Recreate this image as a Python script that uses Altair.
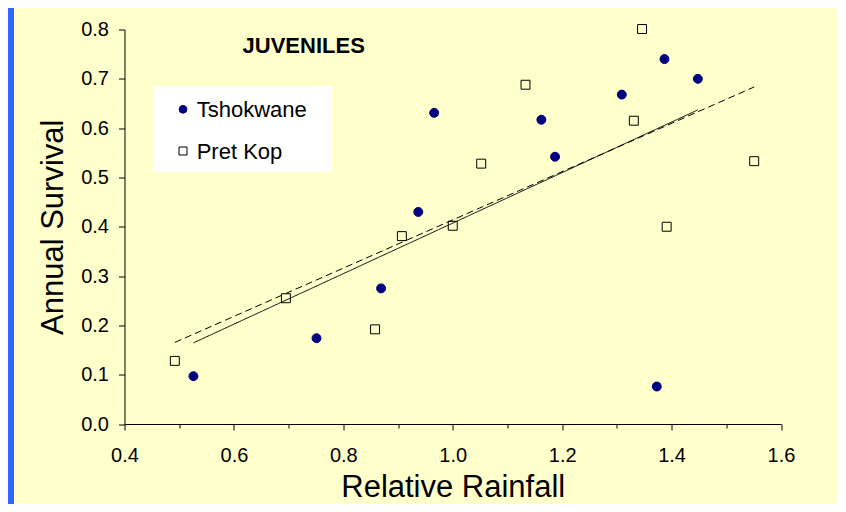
import altair as alt
import pandas as pd

# ---- data ----
series_names = ["Tshokwane", "Pret Kop"]
tsh_x = [0.526, 0.751, 0.869, 0.937, 0.966, 1.162, 1.187, 1.309, 1.387, 1.448, 1.373]
tsh_y = [0.097, 0.174, 0.275, 0.430, 0.631, 0.617, 0.542, 0.668, 0.740, 0.700, 0.076]
pk_x = [0.492, 0.695, 0.858, 0.907, 1.000, 1.052, 1.133, 1.346, 1.331, 1.551, 1.391]
pk_y = [0.128, 0.255, 0.192, 0.381, 0.402, 0.528, 0.688, 0.801, 0.615, 0.533, 0.400]
x_ticks = [0.4, 0.5, 0.6, 0.7, 0.8, 0.9, 1.0, 1.1, 1.2, 1.3, 1.4, 1.5, 1.6]
y_ticks = [0.0, 0.1, 0.2, 0.3, 0.4, 0.5, 0.6, 0.7, 0.8]
title_text = ["JUVENILES"]
x_title = "Relative Rainfall"
y_title = "Annual Survival"

# ---- styles ----
series_shapes = ["circle", "square"]
series_fills = ["#000080", "transparent"]
series_strokes = ["#000080", "#000000"]
series_dashes = [[1, 0], [7, 4]]

df = pd.DataFrame({
    "rain": tsh_x + pk_x,
    "surv": tsh_y + pk_y,
    "site": [series_names[0]] * len(tsh_x) + [series_names[1]] * len(pk_x),
})

FONT = "Liberation Sans"
BG = "#FFFFCC"
BLUE = "#3366FF"

TOTAL_H = 496
PAD_TOP = 21.5
PLOT_H = 394.5

x_scale = alt.Scale(domain=[0.4, 1.6], nice=False, zero=False)
y_scale = alt.Scale(domain=[0.0, 0.8], nice=False, zero=False)

x_axis = alt.Axis(
    values=x_ticks,
    labelExpr="round(datum.value*10) % 2 == 0 ? format(datum.value, '.1f') : ''",
    tickSize={"condition": {"test": "round(datum.value*10) % 2 == 1", "value": 4}, "value": 6},
    labelPadding=15, labelFontSize=20, labelFlush=False, labelOverlap=False,
    title=x_title, titleFontSize=31, titleFontWeight="normal",
    titleY=72, titleBaseline="alphabetic",
)
y_axis = alt.Axis(
    values=y_ticks, format=".1f", tickSize=6, labelPadding=10, labelFontSize=20,
    labelOverlap=False, labelFlush=False,
    title=y_title, titleFontSize=31, titleFontWeight="normal",
    titleAngle=270, titleX=-62.5, titleY=197.25, titleAlign="center",
    titleBaseline="alphabetic",
)

X = alt.X("rain:Q", scale=x_scale, axis=x_axis)
Y = alt.Y("surv:Q", scale=y_scale, axis=y_axis)

base = alt.Chart(df)

points = base.mark_point(size=80, strokeWidth=1, opacity=1).encode(
    x=X, y=Y,
    shape=alt.Shape("site:N", scale=alt.Scale(domain=series_names, range=series_shapes), legend=None),
    fill=alt.Fill("site:N", scale=alt.Scale(domain=series_names, range=series_fills), legend=None),
    stroke=alt.Stroke("site:N", scale=alt.Scale(domain=series_names, range=series_strokes), legend=None),
)

lines = base.transform_regression("rain", "surv", groupby=["site"]).mark_line(
    color="black", strokeWidth=1
).encode(
    x=X, y=Y,
    strokeDash=alt.StrokeDash("site:N", scale=alt.Scale(domain=series_names, range=series_dashes), legend=None),
)

title = alt.Chart(pd.DataFrame({"t": title_text})).mark_text(
    font=FONT, fontSize=22, fontWeight="bold", align="center", baseline="alphabetic", color="black"
).encode(text="t:N", x=alt.value(179.2), y=alt.value(23.8))

strip = alt.Chart(pd.DataFrame({"a": [0]})).mark_rect(color=BLUE, clip=False).encode(
    x=alt.value(-116.5), x2=alt.value(-110.5), y=alt.value(-PAD_TOP), y2=alt.value(TOTAL_H - PAD_TOP)
)

# ---- legend box (drawn as marks, positioned in pixels) ----
legend_box = alt.Chart(pd.DataFrame({"a": [0]})).mark_rect(color="white", clip=False).encode(
    x=alt.value(28.5), x2=alt.value(207.5), y=alt.value(56.5), y2=alt.value(142.5)
)
legend_layers = [legend_box]
for i, name in enumerate(series_names):
    row_y = 79.8 + i * 41.7
    leg_df = pd.DataFrame({"site": [name]})
    legend_layers.append(
        alt.Chart(leg_df).mark_point(
            shape=series_shapes[i], fill=series_fills[i], stroke=series_strokes[i],
            strokeWidth=1, size=60 if i == 0 else 64, opacity=1, clip=False,
        ).encode(x=alt.value(58.5), y=alt.value(row_y))
    )
    legend_layers.append(
        alt.Chart(leg_df).mark_text(
            font=FONT, fontSize=22, align="left", baseline="middle", color="black", clip=False
        ).encode(text="site:N", x=alt.value(72.2), y=alt.value(row_y + 1))
    )

chart = alt.layer(strip, lines, points, *legend_layers, title).properties(
    width=656.5, height=PLOT_H,
    padding={"left": 116.5, "top": PAD_TOP, "right": 57, "bottom": TOTAL_H - PAD_TOP - PLOT_H},
    autosize=alt.AutoSizeParams(type="none"),
    background=BG,
).configure_view(stroke=None).configure_axis(
    grid=False, domainColor="black", tickColor="black", labelColor="black",
    titleColor="black", labelFont=FONT, titleFont=FONT, domainWidth=1, tickWidth=1,
)

chart.save("out.html", embed_options={"renderer": "svg", "actions": False})
